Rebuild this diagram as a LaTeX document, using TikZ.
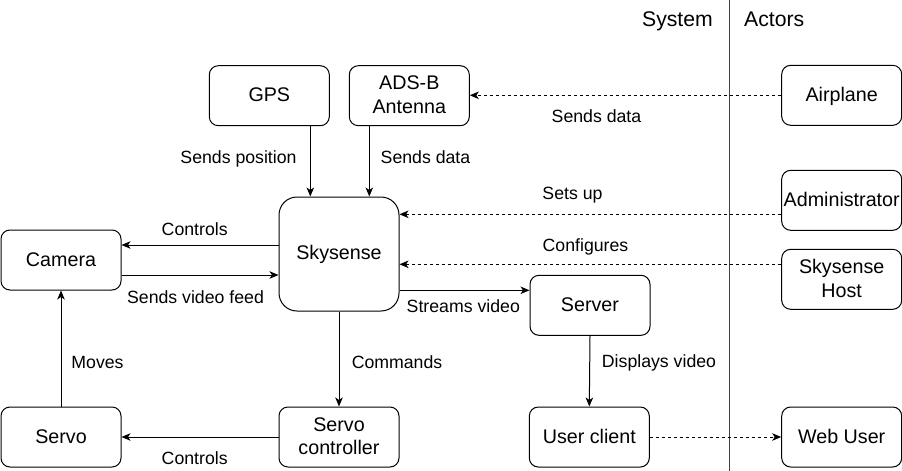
\documentclass[tikz,border=0pt]{standalone}
\usepackage{fontspec}
\setmainfont{Liberation Sans}
\usetikzlibrary{arrows.meta,calc}
\newcommand\bxs{\rule[-4pt]{0pt}{20pt}}
\begin{document}
\begin{tikzpicture}[x=1pt,y=-1pt,
  box/.style={draw, line width=1pt, rounded corners=9pt, minimum width=120pt, minimum height=60pt,
    inner sep=0pt, align=center, font=\fontsize{19.7}{23.6}\selectfont},
  elabel/.style={anchor=base, inner sep=0pt, font=\fontsize{17.7}{21}\selectfont},
  head/.style={inner sep=0pt, font=\fontsize{21.2}{25}\selectfont},
  arr/.style={line width=1pt, -{Stealth[length=9pt,width=7.5pt,inset=2.5pt]}},
  darr/.style={arr, dash pattern=on 3pt off 3pt}]
\useasboundingbox (0,0) rectangle (902,471);
\fill[white] (0,0) rectangle (902,471);

% separator and headers
\coordinate (septop) at (729,0);
\coordinate (sepbot) at (729,471);
\draw[line width=1pt, black!75] (septop) -- (sepbot);
\node[head, anchor=base east] (hsys) at (713,26) {System};
\node[head, anchor=base west] (hact) at (744,26) {Actors};

% boxes
\node[box] (gps) at (269.3,95.7) {\bxs GPS};
\node[box] (adsb) at (409.3,95.7) {\bxs ADS-B\\\bxs Antenna};
\node[box, minimum height=114pt, rounded corners=18pt] (sky) at (339,254) {\bxs Skysense};
\node[box] (cam) at (61,260) {\bxs Camera};
\node[box] (servo) at (61,437) {\bxs Servo};
\node[box] (servoc) at (339,437) {\bxs Servo\\\bxs controller};
\node[box] (server) at (590,305.3) {\bxs Server};
\node[box] (ucl) at (589.3,437) {\bxs User client};
\node[box] (air) at (841.7,95.3) {\bxs Airplane};
\node[box] (adm) at (841.7,200.3) {\bxs Administrator};
\node[box] (host) at (841.7,279.3) {\bxs Skysense\\\bxs Host};
\node[box] (web) at (841.7,437) {\bxs Web User};

% connectors
\draw[arr] ([xshift=41pt]gps.south) -- ([xshift=41pt]gps.south |- sky.north);
\draw[arr] ([xshift=-40pt]adsb.south) -- ([xshift=-40pt]adsb.south |- sky.north);
\draw[darr] (air.west) -- (air.west -| adsb.east);
\coordinate (d1) at ([yshift=-14pt]adm.west);
\draw[darr] (d1) -- (d1 -| sky.east);
\coordinate (d2) at ([yshift=15pt]host.west);
\draw[darr] (d2) -- (d2 -| sky.east);
\coordinate (c1) at ([yshift=15pt]cam.east);
\draw[arr] (c1 -| sky.west) -- (c1);
\coordinate (c2) at ([yshift=-15pt]cam.east);
\draw[arr] (c2) -- (c2 -| sky.west);
\coordinate (s1) at ([yshift=15pt]server.west);
\draw[arr] (s1 -| sky.east) -- (s1);
\draw[arr] (sky.south) -- (servoc.north);
\draw[arr] (servoc.west) -- (servo.east);
\draw[arr] (servo.north) -- (cam.south);
\draw[arr] (server.south) -- (ucl.north);
\draw[darr] (ucl.east) -- (web.west);

% labels
\node[elabel] (l1) at (238.5,163) {Sends position};
\node[elabel] (l2) at (425.5,163) {Sends data};
\node[elabel] (l3) at (596.5,122) {Sends data};
\node[elabel] (l4) at (572.5,199) {Sets up};
\node[elabel] (l5) at (585.5,251.5) {Configures};
\node[elabel] (l6) at (194.7,235) {Controls};
\node[elabel] (l7) at (195.5,303.3) {Sends video feed};
\node[elabel] (l8) at (463.3,312.7) {Streams video};
\node[elabel] (l9) at (397,368) {Commands};
\node[elabel] (l10) at (97.5,368) {Moves};
\node[elabel] (l11) at (659,367.3) {Displays video};
\node[elabel] (l12) at (194.7,464) {Controls};
\end{tikzpicture}
\end{document}
